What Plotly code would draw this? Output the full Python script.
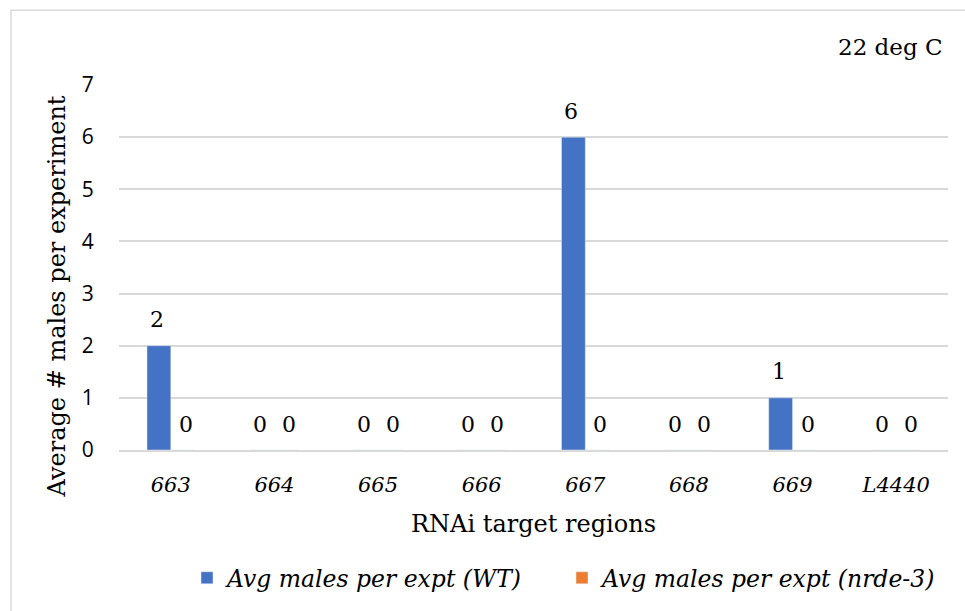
import plotly.graph_objects as go

categories = ["663", "664", "665", "666", "667", "668", "669", "L4440"]
wt_values = [2, 0, 0, 0, 6, 0, 1, 0]
nrde3_values = [0, 0, 0, 0, 0, 0, 0, 0]
y_ticks = [0, 1, 2, 3, 4, 5, 6, 7]

BLUE = "#4472C4"
ORANGE = "#ED7D31"
SERIF = "DejaVu Serif"
SANS = "Open Sans"

L, R, T, B = 119, 17, 85, 160
W, H = 965, 611
pw, ph = W - L - R, H - T - B

fig = go.Figure()
fig.add_trace(go.Bar(x=categories, y=wt_values, name="<i>Avg males per expt (WT)</i>",
                     marker_color=BLUE))
fig.add_trace(go.Bar(x=categories, y=nrde3_values, name="<i>Avg males per expt (nrde-3)</i>",
                     marker_color=ORANGE))

annotations = []
for i, v in enumerate(wt_values):
    annotations.append(dict(x=i, y=v, xref="x", yref="y", text=str(v), showarrow=False,
                            xshift=-14, yshift=26, font=dict(family=SERIF, size=22, color="black")))
for i, v in enumerate(nrde3_values):
    annotations.append(dict(x=i, y=v, xref="x", yref="y", text=str(v), showarrow=False,
                            xshift=15, yshift=26, font=dict(family=SERIF, size=22, color="black")))
annotations.append(dict(x=(945 - L) / pw, y=(T + ph - 47) / ph, xref="paper", yref="paper",
                        text="22 deg C", showarrow=False, xanchor="right", yanchor="middle",
                        font=dict(family=SERIF, size=23, color="black")))
annotations.append(dict(x=(57 - L) / pw, y=(T + ph - 297) / ph, xref="paper", yref="paper",
                        text="Average # males per experiment", textangle=-90, showarrow=False,
                        xanchor="center", yanchor="middle",
                        font=dict(family=SERIF, size=24, color="black")))

fig.update_layout(
    width=W, height=H,
    margin=dict(l=L, r=R, t=T, b=B),
    paper_bgcolor="white", plot_bgcolor="white",
    barmode="group", bargap=0.54, bargroupgap=0,
    showlegend=True,
    legend=dict(orientation="h", x=(187 - L) / pw, xanchor="left", y=(T + ph - 578) / ph,
                yanchor="middle", font=dict(family=SERIF, size=23.5, color="black"),
                itemwidth=30, tracegroupgap=0, entrywidth=330, entrywidthmode="pixels"),
    annotations=annotations,
    shapes=[dict(type="rect", xref="paper", yref="paper",
                 x0=(11 - L) / pw, x1=(W + 5 - L) / pw,
                 y0=(T + ph - (H + 5)) / ph, y1=(T + ph - 10) / ph,
                 line=dict(color="#d9d9d9", width=1.5), fillcolor="rgba(0,0,0,0)", layer="below")],
    xaxis=dict(
        type="category", range=[-0.5, len(categories) - 0.5],
        tickfont=dict(family=SERIF, size=21, color="black", style="italic"),
        ticks="outside", ticklen=15, tickcolor="rgba(0,0,0,0)",
        showline=True, linecolor="#d9d9d9", linewidth=1.5,
        title=dict(text="RNAi target regions", font=dict(family=SERIF, size=24, color="black"),
                   standoff=19),
    ),
    yaxis=dict(
        range=[0, 7], tickvals=y_ticks, showgrid=True, gridcolor="#d9d9d9", gridwidth=1.5,
        zeroline=False,
        tickfont=dict(family=SANS, size=21, color="black"),
        ticks="outside", ticklen=20, tickcolor="rgba(0,0,0,0)",
    ),
)

fig.write_html("out.html")
